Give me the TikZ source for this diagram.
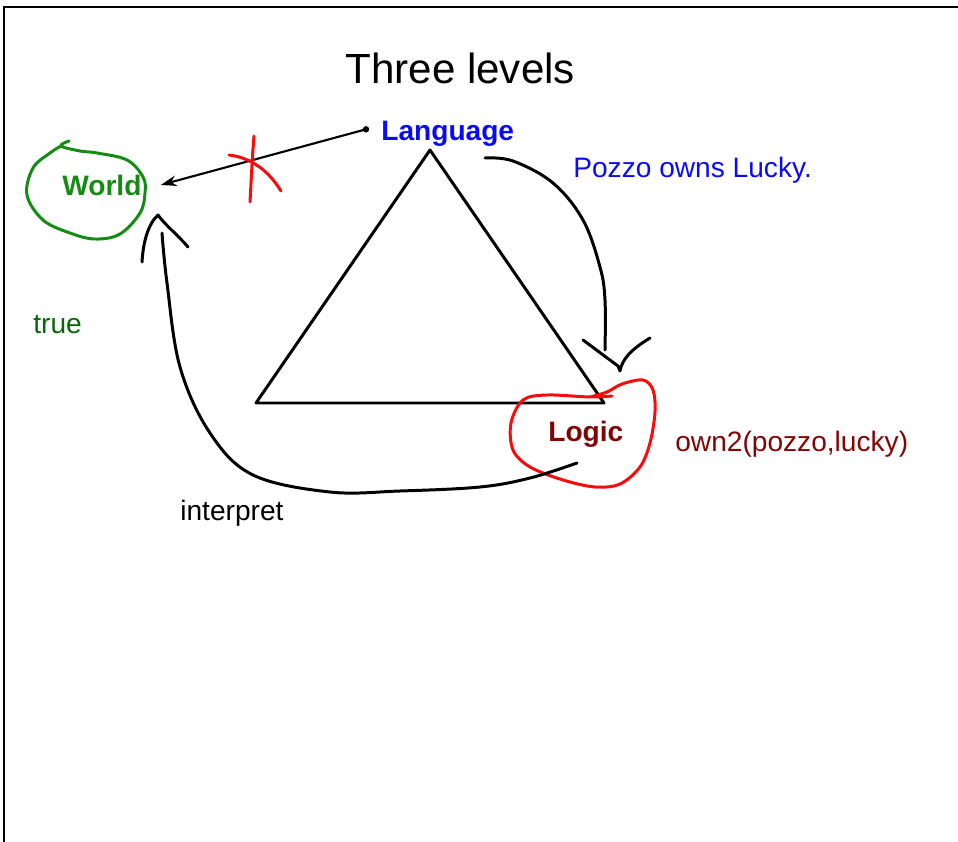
\documentclass[tikz,border=0pt]{standalone}
\usepackage{fontspec}
\setmainfont{Liberation Sans}
\usetikzlibrary{arrows.meta, positioning, calc}

\definecolor{langblue}{RGB}{10,10,250}
\definecolor{worldgreen}{RGB}{20,140,20}
\definecolor{truegreen}{RGB}{10,100,10}
\definecolor{logicred}{RGB}{130,5,5}
\definecolor{penred}{RGB}{250,10,10}

\begin{document}
\begin{tikzpicture}[
    x=0.02cm, y=-0.02cm,
    font=\fontsize{16}{19}\selectfont,
    word/.style={anchor=base west, inner sep=0pt},
    bword/.style={word, font=\bfseries\fontsize{16}{19}\selectfont},
    ink/.style={line width=1.7pt, line cap=round, line join=round},
    thinink/.style={line width=1.2pt, line cap=round, line join=round},
]
\useasboundingbox (0,0) rectangle (958,842);

% frame (top and left edges only)
\draw[line width=1.7pt] (4,842) -- (4,7) -- (958,7);

% ===== texts =====
\node[word, font=\fontsize{24}{28}\selectfont] (title) at (345,83) {Three levels};
\node[bword, text=langblue] (lang) at (381,140) {Language};
\node[bword, text=worldgreen] (world) at (62,195) {World};
\node[bword, text=logicred] (logic) at (548,441) {Logic};
\node[word, text=langblue] (pozzo) at (573,177) {Pozzo owns Lucky.};
\node[word, text=logicred] (own) at (675,451) {own2(pozzo,lucky)};
\node[word, text=truegreen] (truth) at (33,333) {true};
\node[word] (interp) at (180,520) {interpret};

% ===== triangle =====
\coordinate (apex) at (430,150);
\coordinate (bl) at (256,403);
\coordinate (br) at (604,403);
\draw[ink] (apex) -- (bl) -- (br) -- cycle;

% ===== Language -> World (crossed out) =====
\coordinate (ltail) at ($(lang.west)+(-15,-4)$);
\coordinate (lhead) at ($(world.east)+(19,0)$);
\fill (ltail) circle (3.2);
\draw[thinink, -{Stealth[length=9pt,width=6pt]}] (ltail) -- (lhead);
\draw[ink, penred] (254,136) .. controls (252,160) and (251,185) .. (250,202);
\draw[ink, penred] (229,155) .. controls (245,157) and (265,165) .. (281,191);

% ===== green loop round World =====
\draw[ink, worldgreen] plot[smooth, tension=0.6] coordinates {
    (69,141) (61,146) (80,151) (97,153) (127,160) (143,177) (145,193)
    (140,213) (120,234) (95,239) (70,233) (43,220) (27,195) (33,168) (50,153) (61,146)};

% ===== Language -> Logic =====
\coordinate (rtail) at (485,158);
\coordinate (rhead) at (605,350);
\draw[ink] plot[smooth, tension=0.6] coordinates {
    (rtail) (513,161) (553,183) (583,220) (600,267) (605,300) (rhead)};
\draw[ink] (583,340) -- (618,366) -- (620,371) .. controls (622,360) and (630,350) .. (650,338);

% ===== red loop round Logic =====
\draw[ink, penred] plot[smooth, tension=0.55] coordinates {
    (590,397) (607,392) (622,384) (643,380) (653,390) (655,412) (650,443)
    (640,467) (620,484) (595,487) (563,480) (530,467) (513,450) (511,423)
    (523,400) (547,395) (590,397) (612,396)};

% ===== interpret: Logic -> World =====
\coordinate (itail) at (577,463);
\coordinate (ihead) at (162,233);
\draw[ink] plot[smooth, tension=0.6] coordinates {
    (itail) (530,478) (480,487) (400,491) (330,492) (253,475) (210,433)
    (180,367) (167,283) (ihead)};
\draw[ink] (142,262) .. controls (143,245) and (147,225) .. (158,215)
    .. controls (165,225) and (178,235) .. (188,247);

\end{tikzpicture}
\end{document}
